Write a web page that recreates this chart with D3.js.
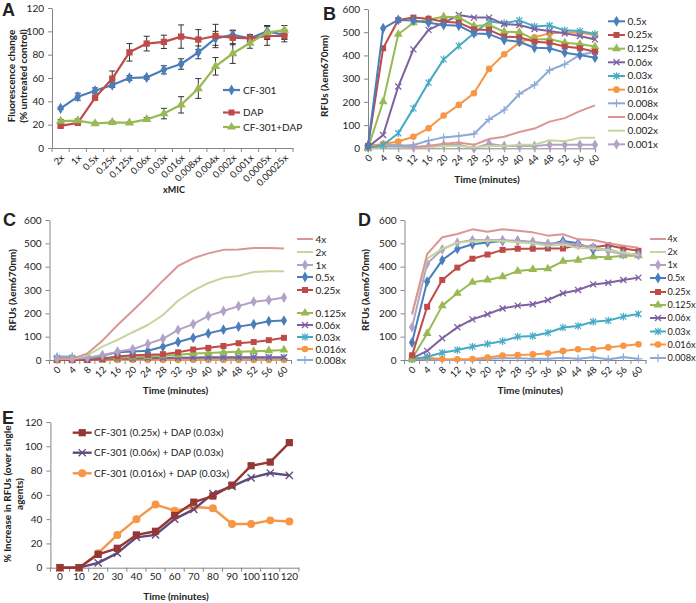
<!DOCTYPE html>
<html><head><meta charset="utf-8">
<script src="https://cdn.jsdelivr.net/npm/d3@7"></script>
<style>
body{margin:0;background:#fff}
svg{display:block}
text{font-family:Lato,'Open Sans',sans-serif;fill:#222}
</style>
</head><body>
<svg id="c" width="696" height="603"></svg>
<script>
// ---------------- DATA ----------------
// Panel A
const A_categories = ["2x","1x","0.5x","0.25x","0.125x","0.06x","0.03x","0.016x","0.008xx","0.004x","0.002x","0.001x","0.0005x","0.00025x"];
const A_CF301      = [34,44,49,54,60,60.5,67,72,82,94,97,94,100,97];
const A_CF301_err  = [1,3,2.5,2,2,1.5,3.5,4.5,5.5,6,4,3,5,4];
const A_DAP        = [19,21.5,43,59.5,82,89.5,91,95.5,93,96,94.5,94,96,96];
const A_DAP_err    = [1.5,1.5,1.5,6.5,7.5,6.3,5.7,10,8.5,10,6,3,8,5];
const A_COMBO      = [23,23.5,21,22,21.5,24.5,29.5,37,51,70,81,90,99,101];
const A_COMBO_err  = [1.5,1.5,1,1,1,1.5,4.5,7,8.5,7.5,8.5,4.5,6,4];
const A_yTicks     = [0,20,40,60,80,100,120];

// Panels B, C, D: time axis
const T_minutes = [0,4,8,12,16,20,24,28,32,36,40,44,48,52,56,60];
const RFU_ticks = [0,100,200,300,400,500,600];

// Panel B
const B_names = ["0.5x","0.25x","0.125x","0.06x","0.03x","0.016x","0.008x","0.004x","0.002x","0.001x"];
const B_05x    = [10,517,553,550,541,531,528,495,492,466,459,433,431,412,402,390];
const B_025x   = [10,431,553,563,558,545,541,512,510,481,478,459,455,438,431,416];
const B_0125x  = [0,201,491,541,555,567,564,527,531,502,500,469,471,455,449,438];
const B_006x   = [5,57,266,426,510,541,574,563,563,535,531,514,505,495,484,469];
const B_003x   = [0,14,65,172,283,383,441,496,546,539,551,525,529,508,505,492];
const B_0016x  = [10,19,29,50,86,141,187,237,342,405,455,478,495,500,498,488];
const B_0008x  = [10,10,10,14,33,47,53,62,125,165,234,273,337,362,402,416];
const B_0004x  = [5,10,10,5,10,20,25,15,40,50,70,85,115,130,160,185];
const B_0002x  = [0,5,5,5,5,10,10,5,10,10,15,15,35,30,45,45];
const B_0001x  = [10,15,15,5,10,15,15,0,20,10,10,10,15,15,15,15];

// Panel C
const CD_names = ["4x","2x","1x","0.5x","0.25x","0.125x","0.06x","0.03x","0.016x","0.008x"];
const C_4x     = [5,5,28,83,150,211,274,340,403,436,457,472,474,480,480,478];
const C_2x     = [5,5,20,57,86,119,150,193,254,297,330,352,360,377,380,380];
const C_1x     = [5,5,10,20,36,46,69,91,129,154,189,210,231,250,257,268];
const C_05x    = [5,5,8,19,33,36,40,57,77,95,114,130,143,153,166,169];
const C_025x   = [0,0,0,5,15,20,22,25,33,45,52,60,72,77,85,95];
const C_0125x  = [0,0,0,5,10,13,15,18,22,28,30,33,35,37,40,43];
const C_006x   = [0,0,0,2,5,5,8,8,10,10,12,12,12,12,12,12];
const C_003x   = [10,10,10,10,10,10,10,10,10,10,10,10,10,10,10,10];
const C_0016x  = [0,0,0,0,0,0,0,0,0,0,0,0,0,0,0,0];
const C_0008x  = [15,15,5,5,5,5,5,5,5,5,5,5,5,5,5,5];

// Panel D
const D_4x     = [195,454,526,540,560,550,560,554,547,533,539,517,514,500,490,481];
const D_2x     = [200,434,477,503,510,512,510,505,500,490,495,480,478,470,460,450];
const D_1x     = [140,413,474,503,514,514,514,510,507,499,501,493,484,467,453,450];
const D_05x    = [75,336,428,476,496,504,510,511,504,493,510,500,472,474,455,452];
const D_025x   = [20,228,343,396,434,452,472,477,477,478,478,493,483,492,478,468];
const D_0125x  = [5,114,233,286,333,343,357,381,388,391,423,428,443,440,447,447];
const D_006x   = [7,39,93,140,174,196,221,233,239,257,286,300,324,331,343,353];
const D_003x   = [3,14,31,43,57,69,81,100,103,117,139,146,164,169,186,197];
const D_0016x  = [3,10,4,3,4,11,19,21,24,29,39,46,47,54,61,67];
const D_0008x  = [5,3,0,0,0,5,8,8,5,5,10,5,12,3,12,5];

// Panel E
const E_times  = [0,10,20,30,40,50,60,70,80,90,100,110,120];
const E_names  = ["CF-301 (0.25x) + DAP (0.03x)","CF-301 (0.06x) + DAP (0.03x)","CF-301 (0.016x) + DAP (0.03x)"];
const E_025    = [0,0,11,16,27,30,43,54,59,68,84,87,103];
const E_006    = [0,0,4,12,25,27,40,48,61,67,74,78,76];
const E_0016   = [0,0,12,27,40,52,47,50,49,36,36,39,38];
const E_yTicks = [0,20,40,60,80,100,120];

// ---------------- STYLE ----------------
const COL = {
  blue:"#4A7EBB", red:"#BE4B48", green:"#98B954", purple:"#7D60A0", cyan:"#46AAC5",
  orange:"#F79646", lblue:"#8EA9D8", lred:"#DA9694", lgreen:"#C3D69B", lpurple:"#B3A2C7",
  dred:"#953735", dpurple:"#604A7B", eorange:"#F79646"
};
const AXC = "#868686";
const svg = d3.select("#c");

function drawMarker(g, type, color, x, y, s) {
  s = s || 1;
  const t = `translate(${x},${y})`;
  if (type === "diamond") g.append("path").attr("d", d3.symbol(d3.symbolDiamond, 34*s*s)()).attr("transform", t).attr("fill", color);
  else if (type === "square") g.append("rect").attr("x", x-3*s).attr("y", y-3*s).attr("width", 6*s).attr("height", 6*s).attr("fill", color);
  else if (type === "triangle") g.append("path").attr("d", d3.symbol(d3.symbolTriangle, 34*s*s)()).attr("transform", t).attr("fill", color);
  else if (type === "circle") g.append("circle").attr("cx", x).attr("cy", y).attr("r", 3.3*s).attr("fill", color);
  else if (type === "x") g.append("path").attr("d", `M${-3*s},${-3*s}L${3*s},${3*s}M${-3*s},${3*s}L${3*s},${-3*s}`).attr("transform", t).attr("stroke", color).attr("stroke-width", 1.3).attr("fill","none");
  else if (type === "star") g.append("path").attr("d", `M${-3*s},${-3*s}L${3*s},${3*s}M${-3*s},${3*s}L${3*s},${-3*s}M0,${-3.8*s}V${3.8*s}`).attr("transform", t).attr("stroke", color).attr("stroke-width", 1.2).attr("fill","none");
  else if (type === "plus") g.append("path").attr("d", `M${-4*s},0H${4*s}M0,${-4*s}V${4*s}`).attr("transform", t).attr("stroke", color).attr("stroke-width", 1.2).attr("fill","none");
}

function drawSeries(g, xs, y, cats, vals, color, mk, lw, ms) {
  const line = d3.line().x((d,i)=>xs(cats[i])).y(d=>y(d));
  g.append("path").datum(vals).attr("d", line).attr("fill","none").attr("stroke", color).attr("stroke-width", lw).attr("stroke-linejoin","round");
  if (mk) vals.forEach((v,i)=>drawMarker(g, mk, color, xs(cats[i]), y(v), ms));
}

function yAxis(g, y, x0, ticks) {
  const ax = g.append("g").attr("transform", `translate(${x0},0)`)
    .call(d3.axisLeft(y).tickValues(ticks).tickSize(4).tickSizeOuter(0).tickPadding(4));
  ax.select(".domain").attr("stroke", AXC);
  ax.selectAll(".tick line").attr("stroke", AXC);
  ax.selectAll("text").style("font-size","10px").attr("fill","#222");
  return ax;
}

function xAxisBetween(g, xs, y0, rotate) {
  const ax = g.append("g").attr("transform", `translate(0,${y0})`)
    .call(d3.axisBottom(xs).tickSize(0).tickSizeOuter(0).tickPadding(5));
  ax.select(".domain").attr("stroke", AXC);
  const r = xs.range(), n = xs.domain().length, st = xs.step();
  for (let i=0;i<=n;i++) g.append("line").attr("x1", r[0]+i*st).attr("x2", r[0]+i*st).attr("y1", y0).attr("y2", y0+4).attr("stroke", AXC);
  styleXLabels(ax, rotate);
  return ax;
}

function styleXLabels(ax, rotate) {
  const t = ax.selectAll("text").style("font-size", rotate ? "9.5px" : "10px").attr("fill","#222");
  if (rotate) t.attr("x",0).attr("y",0).attr("dy","0.35em").attr("text-anchor","end").attr("transform","translate(2,8) rotate(-45)");
}

function title(g, txt, x, y, rot, size) {
  return g.append("text").attr("text-anchor","middle").attr("font-weight","bold").style("font-size", (size||10)+"px")
    .attr("transform", `translate(${x},${y})` + (rot ? " rotate(-90)" : "")).attr("dy","0.35em").text(txt);
}

function panelLabel(txt, x, y) {
  svg.append("text").attr("x", x).attr("y", y).attr("font-weight","bold").style("font-size","18px")
    .style("font-family","Liberation Sans, Arial, sans-serif").text(txt);
}

function legend(g, items, x0, x1, tx, ys, lw, ms, fs) {
  items.forEach((it,i)=>{
    g.append("line").attr("x1",x0).attr("x2",x1).attr("y1",ys[i]).attr("y2",ys[i]).attr("stroke",it.color).attr("stroke-width",lw);
    if (it.mk) drawMarker(g, it.mk, it.color, (x0+x1)/2, ys[i], ms);
    g.append("text").attr("x",tx).attr("y",ys[i]).attr("dy","0.35em").style("font-size",(fs||10)+"px").text(it.name);
  });
}

// ---------------- PANEL A ----------------
(function(){
  const g = svg.append("g");
  const x = d3.scaleBand().domain(A_categories).range([52,293]);
  const xc = c => x(c) + x.bandwidth()/2;
  const y = d3.scaleLinear().domain([0,120]).range([148,8]);
  yAxis(g, y, 52, A_yTicks);
  xAxisBetween(g, x, 148, true);
  const series = [
    {name:"CF-301", vals:A_CF301, err:A_CF301_err, color:COL.blue, mk:"diamond"},
    {name:"DAP", vals:A_DAP, err:A_DAP_err, color:COL.red, mk:"square"},
    {name:"CF-301+DAP", vals:A_COMBO, err:A_COMBO_err, color:COL.green, mk:"triangle"}
  ];
  series.forEach(s=>{
    s.vals.forEach((v,i)=>{
      const cx = xc(A_categories[i]);
      g.append("path").attr("d", `M${cx},${y(v+s.err[i])}V${y(v-s.err[i])}M${cx-3},${y(v+s.err[i])}H${cx+3}M${cx-3},${y(v-s.err[i])}H${cx+3}`)
        .attr("stroke","#333").attr("stroke-width",1).attr("fill","none");
    });
  });
  series.forEach(s=>drawSeries(g, xc, y, A_categories, s.vals, s.color, s.mk, 2.2, 1.05));
  legend(g, series, 223, 240, 243, [90,112.5,127], 2.2, 1);
  title(g, "Fluorescence change", 11, 76, true);
  title(g, "(% untreated control)", 23, 76, true);
  title(g, "xMIC", 174, 190, false, 9);
  panelLabel("A", 2, 16);
})();

// ---------------- PANEL B ----------------
(function(){
  const g = svg.append("g");
  const x = d3.scalePoint().domain(T_minutes).range([368,595]);
  const y = d3.scaleLinear().domain([0,600]).range([148.3,9]);
  yAxis(g, y, 368, RFU_ticks);
  const ax = g.append("g").attr("transform","translate(0,148.3)")
    .call(d3.axisBottom(x).tickSize(4).tickSizeOuter(0).tickPadding(4));
  ax.select(".domain").attr("stroke", AXC);
  ax.selectAll(".tick line").attr("stroke", AXC);
  styleXLabels(ax, true);
  const series = [
    {name:"0.5x", vals:B_05x, color:COL.blue, mk:"diamond"},
    {name:"0.25x", vals:B_025x, color:COL.red, mk:"square"},
    {name:"0.125x", vals:B_0125x, color:COL.green, mk:"triangle"},
    {name:"0.06x", vals:B_006x, color:COL.purple, mk:"x"},
    {name:"0.03x", vals:B_003x, color:COL.cyan, mk:"star"},
    {name:"0.016x", vals:B_0016x, color:COL.orange, mk:"circle"},
    {name:"0.008x", vals:B_0008x, color:COL.lblue, mk:"plus"},
    {name:"0.004x", vals:B_0004x, color:COL.lred, mk:null},
    {name:"0.002x", vals:B_0002x, color:COL.lgreen, mk:null},
    {name:"0.001x", vals:B_0001x, color:COL.lpurple, mk:"diamond"}
  ];
  series.slice().reverse().forEach(s=>drawSeries(g, x, y, T_minutes, s.vals, s.color, s.mk, 2, 1));
  legend(g, series, 608, 625, 627.5, series.map((d,i)=>21.3+i*13.67), 2, 1);
  title(g, "Time (minutes)", 487, 179, false);
  title(g, "RFUs (λem670nm)", 324, 76, true);
  panelLabel("B", 323, 20);
})();

// ---------------- PANELS C & D ----------------
function panelCD(vals, xr, yTitleX, legX, legTX, legYs, legFS, label, labelX) {
  const g = svg.append("g");
  const x = d3.scaleBand().domain(T_minutes).range(xr);
  const xc = c => x(c) + x.bandwidth()/2;
  const y = d3.scaleLinear().domain([0,600]).range([360,220]);
  yAxis(g, y, xr[0], RFU_ticks);
  xAxisBetween(g, x, 360, true);
  const cols = [COL.lred, COL.lgreen, COL.lpurple, COL.blue, COL.red, COL.green, COL.purple, COL.cyan, COL.orange, COL.lblue];
  const mks  = [null, null, "diamond", "diamond", "square", "triangle", "x", "star", "circle", "plus"];
  const series = CD_names.map((n,i)=>({name:n, vals:vals[i], color:cols[i], mk:mks[i]}));
  series.slice().reverse().forEach(s=>drawSeries(g, xc, y, T_minutes, s.vals, s.color, s.mk, 2, 1));
  legend(g, series, legX, legX+16, legTX, legYs, 2, 1, legFS);
  title(g, "Time (minutes)", (xr[0]+xr[1])/2 + 5, 390, false);
  title(g, "RFUs (λem670nm)", yTitleX, 290, true);
  panelLabel(label, labelX, 226);
}
panelCD([C_4x,C_2x,C_1x,C_05x,C_025x,C_0125x,C_006x,C_003x,C_0016x,C_0008x], [49.5,291.5], 12,
  297, 315.5, [239,252,265,277,290,313,325,337,349,360], 10, "C", 3);
panelCD([D_4x,D_2x,D_1x,D_05x,D_025x,D_0125x,D_006x,D_003x,D_0016x,D_0008x], [404.5,646], 365,
  650, 667.5, [239,252,265,278,292,305,318,331.5,344.5,358], 9.2, "D", 358);

// ---------------- PANEL E ----------------
(function(){
  const g = svg.append("g");
  const x = d3.scaleBand().domain(E_times).range([50.4,298.9]);
  const xc = c => x(c) + x.bandwidth()/2;
  const y = d3.scaleLinear().domain([0,120]).range([567.7,422]);
  yAxis(g, y, 50.4, E_yTicks);
  xAxisBetween(g, x, 567.7, false);
  const series = [
    {name:E_names[0], vals:E_025, color:COL.dred, mk:"square"},
    {name:E_names[1], vals:E_006, color:COL.dpurple, mk:"x"},
    {name:E_names[2], vals:E_0016, color:COL.eorange, mk:"circle"}
  ];
  series.slice().reverse().forEach(s=>drawSeries(g, xc, y, E_times, s.vals, s.color, s.mk, 2.4, 1.2));
  legend(g, series, 72.7, 91.7, 94, [432.7,452.7,473.3], 2.4, 1.2);
  title(g, "Time (minutes)", 176, 596, false);
  title(g, "% Increase in RFUs (over single", 7, 494, true);
  title(g, "agents)", 19, 494, true);
  panelLabel("E", 2, 424);
})();
</script>
</body></html>
